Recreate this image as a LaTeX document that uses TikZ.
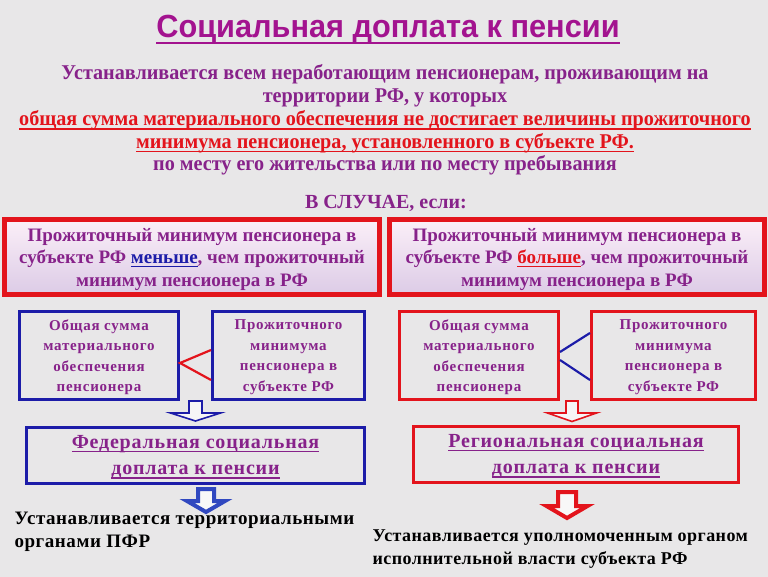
\documentclass[tikz,border=0pt]{standalone}
\usepackage{fontspec}
\setmainfont{Liberation Serif}
\newfontfamily\titlefont[FakeStretch=0.96]{Liberation Sans}
\newfontfamily\introfont[FakeStretch=0.96]{Liberation Serif}
\newfontfamily\spacedfont[LetterSpace=5]{Liberation Serif}
\newfontfamily\widefont[LetterSpace=4]{Liberation Serif}
\newfontfamily\endfont[LetterSpace=3]{Liberation Serif}
\usetikzlibrary{calc}

\definecolor{bgcol}{HTML}{E8E7E8}
\definecolor{titlecol}{HTML}{A3138F}
\definecolor{txtpurple}{HTML}{87228A}
\definecolor{redc}{HTML}{E3141C}
\definecolor{bluec}{HTML}{1C1CA8}
\definecolor{arrblue}{HTML}{3048C0}
\definecolor{boxtop}{HTML}{FBEFF8}
\definecolor{boxbot}{HTML}{DCCBE6}

% underline that stays a bit below the text
\newcommand\ulined[1]{\setbox0=\hbox{#1}\rlap{\rule[-0.2em]{\wd0}{0.08em}}\box0}

\begin{document}
\begin{tikzpicture}[x=1pt, y=-1pt,
    casebox/.style={draw=redc, line width=5pt, top color=boxtop, bottom color=boxbot,
      minimum width=375pt, minimum height=75pt, align=center, text=txtpurple,
      text depth=0pt, font=\bfseries\fontsize{19}{22.5}\selectfont},
    bluebox/.style={draw=bluec, line width=3pt, minimum height=88pt, align=center,
      text=txtpurple, text depth=0pt,
      font=\spacedfont\bfseries\fontsize{15}{20.5}\selectfont},
    redbox/.style={bluebox, draw=redc},
    sumbox/.style={line width=3pt, minimum height=56pt, align=center, text=txtpurple,
      text depth=0pt, font=\widefont\bfseries\fontsize{20}{26.5}\selectfont},
    thinarr/.style={line width=1.6pt, fill=white!60!bgcol},
    fatarr/.style={line width=4pt, line join=miter, fill=white!70!bgcol},
    endtext/.style={anchor=base west, align=left, text=black,
      font=\endfont\bfseries\fontsize{19}{23}\selectfont}]

  \fill[bgcol] (0,0) rectangle (768,577);
  \useasboundingbox (0,0) rectangle (768,577);

  % heading
  \node[anchor=base, text=titlecol, font=\titlefont\bfseries\fontsize{32}{36}\selectfont]
    (title) at (388,38) {\ulined{Социальная доплата к пенсии}};
  \node[anchor=base, align=center, text=txtpurple,
    font=\introfont\bfseries\fontsize{21}{22.8}\selectfont] (intro) at (385,171)
    {Устанавливается всем неработающим пенсионерам, проживающим на\\
     территории РФ, у которых\\
     \textcolor{redc}{\ulined{общая сумма материального обеспечения не достигает величины прожиточного}}\\
     \textcolor{redc}{\ulined{минимума пенсионера, установленного в субъекте РФ.}}\\
     по месту его жительства или по месту пребывания};
  \node[anchor=base, text=txtpurple, font=\bfseries\fontsize{20}{22}\selectfont]
    (incase) at (386,209) {В СЛУЧАЕ, если:};

  % the two cases
  \node[casebox] (lcase) at (192,257)
    {Прожиточный минимум пенсионера в\\
     субъекте РФ \textcolor{bluec}{\ulined{меньше}}, чем прожиточный\\
     минимум пенсионера в РФ};
  \node[casebox] (rcase) at (577,257)
    {Прожиточный минимум пенсионера в\\
     субъекте РФ \textcolor{redc}{\ulined{больше}}, чем прожиточный\\
     минимум пенсионера в РФ};

  % comparison boxes
  \node[bluebox, minimum width=159pt] (lsum) at (99,355.5)
    {Общая сумма\\материального\\обеспечения\\пенсионера};
  \node[bluebox, minimum width=152pt] (lmin) at (288.5,355.5)
    {Прожиточного\\минимума\\пенсионера в\\субъекте РФ};
  \node[redbox, minimum width=159pt] (rsum) at (479,355.5)
    {Общая сумма\\материального\\обеспечения\\пенсионера};
  \node[redbox, minimum width=164pt] (rmin) at (673.5,355.5)
    {Прожиточного\\минимума\\пенсионера в\\субъекте РФ};

  \draw[redc, line width=2.2pt] ($(lmin.west)+(0,-5.5)$) -- ($(lsum.east)+(0,7.5)$)
    -- ($(lmin.west)+(0,24.5)$);
  \draw[bluec, line width=2.2pt] ($(rmin.west)+(0,-22.5)$) -- ($(rsum.east)+(0,-3.5)$);
  \draw[bluec, line width=2.2pt] ($(rsum.east)+(0,4.5)$) -- ($(rmin.west)+(0,24.5)$);

  % supplements
  \node[sumbox, draw=bluec, minimum width=338pt] (fed) at (195.5,455)
    {\ulined{Федеральная социальная}\\\ulined{доплата к пенсии}};
  \node[sumbox, draw=redc, minimum width=325pt] (reg) at (576,454)
    {\ulined{Региональная социальная}\\\ulined{доплата к пенсии}};

  \coordinate (la) at ($(lsum.south east)!0.5!(lmin.south west)$);
  \coordinate (ra) at (572,401);
  \draw[thinarr, draw=bluec] (la) ++(-6.5,0) -- ++(0,12) -- ++(-18.5,0) -- ++(25,8)
    -- ++(25,-8) -- ++(-18.5,0) -- ++(0,-12) -- cycle;
  \draw[thinarr, draw=redc] (ra) ++(-6,0) -- ++(0,12) -- ++(-18.5,0) -- ++(24.5,8.5)
    -- ++(24.5,-8.5) -- ++(-18.5,0) -- ++(0,-12) -- cycle;

  \coordinate (lb) at (206,489);
  \coordinate (rb) at (567,492);
  \draw[fatarr, draw=arrblue] (lb) ++(-8,0) -- ++(0,12) -- ++(-11,0) -- ++(19,11)
    -- ++(19,-11) -- ++(-11,0) -- ++(0,-12) -- cycle;
  \draw[fatarr, draw=redc] (rb) ++(-9,0) -- ++(0,14) -- ++(-11.5,0) -- ++(20.5,12)
    -- ++(20.5,-12) -- ++(-11.5,0) -- ++(0,-14) -- cycle;

  % who sets it
  \node[endtext] (fedtext) at (11,547)
    {Устанавливается территориальными\\органами ПФР};
  \node[endtext, font=\endfont\bfseries\fontsize{18}{23}\addfontfeature{LetterSpace=2.5}\selectfont]
    (regtext) at (369,564)
    {Устанавливается уполномоченным органом\\исполнительной власти субъекта РФ};
\end{tikzpicture}
\end{document}
